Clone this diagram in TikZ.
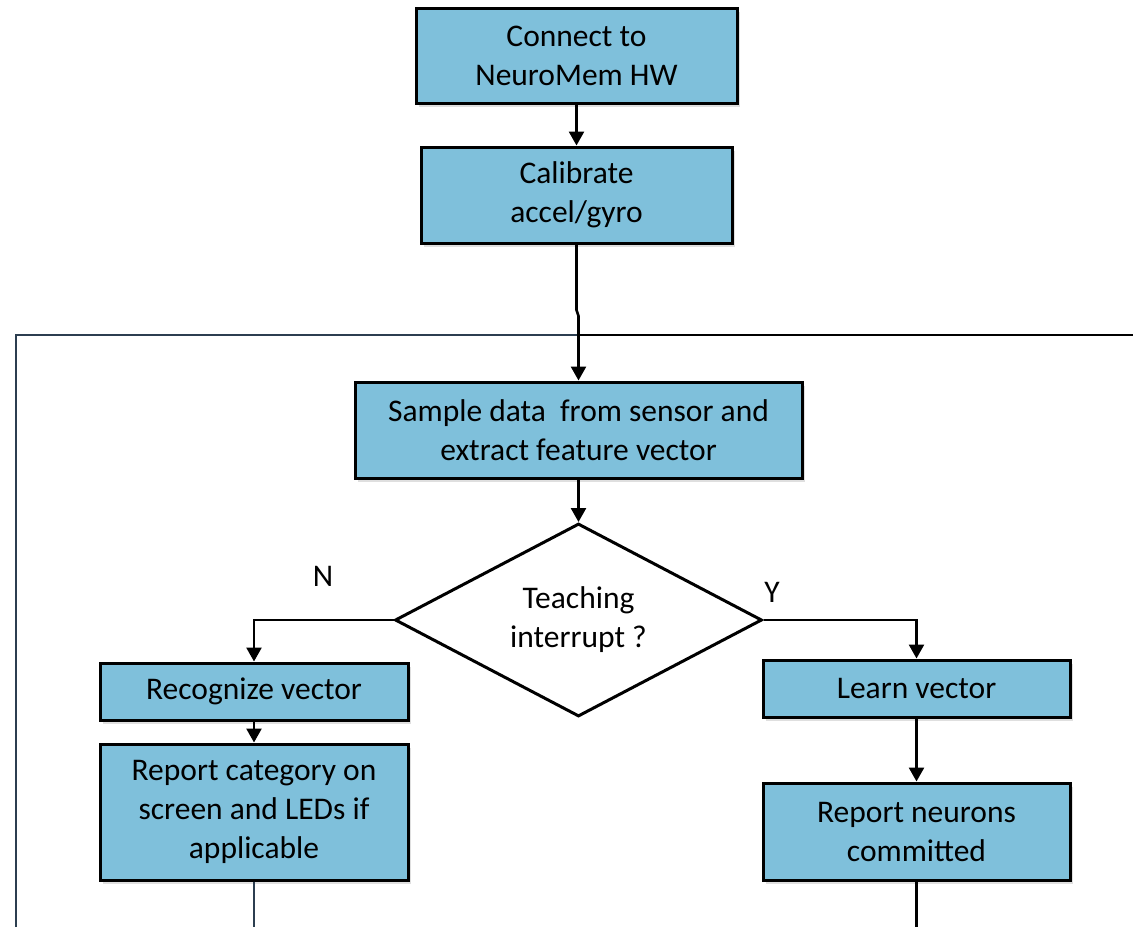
\documentclass[tikz,border=0pt]{standalone}
\usepackage{fontspec}
\setmainfont{Carlito}
\usetikzlibrary{shapes.geometric,arrows.meta,shadows}
\definecolor{boxblue}{RGB}{127,192,219}
\definecolor{slate}{RGB}{44,62,80}
\begin{document}
\begin{tikzpicture}[x=1pt,y=-1pt,
  every node/.style={font=\fontsize{31.5}{39}\selectfont},
  procbox/.style={draw=black, line width=3pt, fill=boxblue, inner sep=0pt,
    align=center, drop shadow={shadow xshift=3pt, shadow yshift=-4pt, opacity=0.25}},
  decis/.style={draw=black, line width=3pt, fill=white, diamond, aspect=1.9, inner sep=0pt,
    minimum width=367pt, minimum height=193pt, align=center},
  flow/.style={line width=2.6pt, black},
  arr/.style={flow, -{Triangle[width=15pt,length=14pt]}},
  loopline/.style={line width=2.6pt, slate}]
\useasboundingbox (0,0) rectangle (1133,927);
\node[procbox, minimum width=321pt, minimum height=95pt] (b1) at (576.5,55.5) {Connect to\\NeuroMem HW};
\node[procbox, minimum width=311pt, minimum height=96pt] (b2) at (576.5,195) {Calibrate\\accel/gyro};
\node[procbox, minimum width=447pt, minimum height=96pt] (b3) at (578.5,430) {Sample data\ \ from sensor and\\extract feature vector};
\node[decis] (d) at (578.5,620) {Teaching\\interrupt ?};
\node[procbox, minimum width=308pt, minimum height=57pt] (b4) at (254,691.5) {Recognize vector};
\node[procbox, minimum width=308pt, minimum height=136pt] (b5) at (254,812) {Report category on\\screen and LEDs if\\applicable};
\node[procbox, minimum width=307pt, minimum height=57pt] (b6) at (916.5,688.5) {Learn vector};
\node[procbox, minimum width=307pt, minimum height=97pt] (b7) at (916.5,831.5) {Report neurons\\committed};
\node (n) at (323,576) {N};
\node (y) at (772,592) {Y};
\coordinate (j1) at (576.5,310);
\coordinate (j2) at (578.5,316);
\coordinate (lt) at (16,335);
\coordinate (lm) at (578.5,335);
\coordinate (rt) at (1133,335);
\coordinate (lb) at (16,927);
\coordinate (b5end) at (254,927);
\coordinate (b7end) at (916.5,927);
\coordinate (nturn) at (254,620);
\coordinate (yturn) at (916.5,620);
% loop lines
\draw[loopline] (lb) -- (lt) -- (lm);
\draw[flow] (lm) -- (rt);
\draw[loopline] (b5.south) -- (b5end);
\draw[flow] (b7.south) -- (b7end);
% main flow
\draw[arr] (b1.south) -- (b2.north);
\draw[arr] (b2.south) -- (j1) -- (j2) -- (b3.north);
\draw[arr] (b3.south) -- (d.north);
\draw[arr] (d.west) -- (nturn) -- (b4.north);
\draw[arr] (b4.south) -- (b5.north);
\draw[arr] (d.east) -- (yturn) -- (b6.north);
\draw[arr] (b6.south) -- (b7.north);
\end{tikzpicture}
\end{document}
